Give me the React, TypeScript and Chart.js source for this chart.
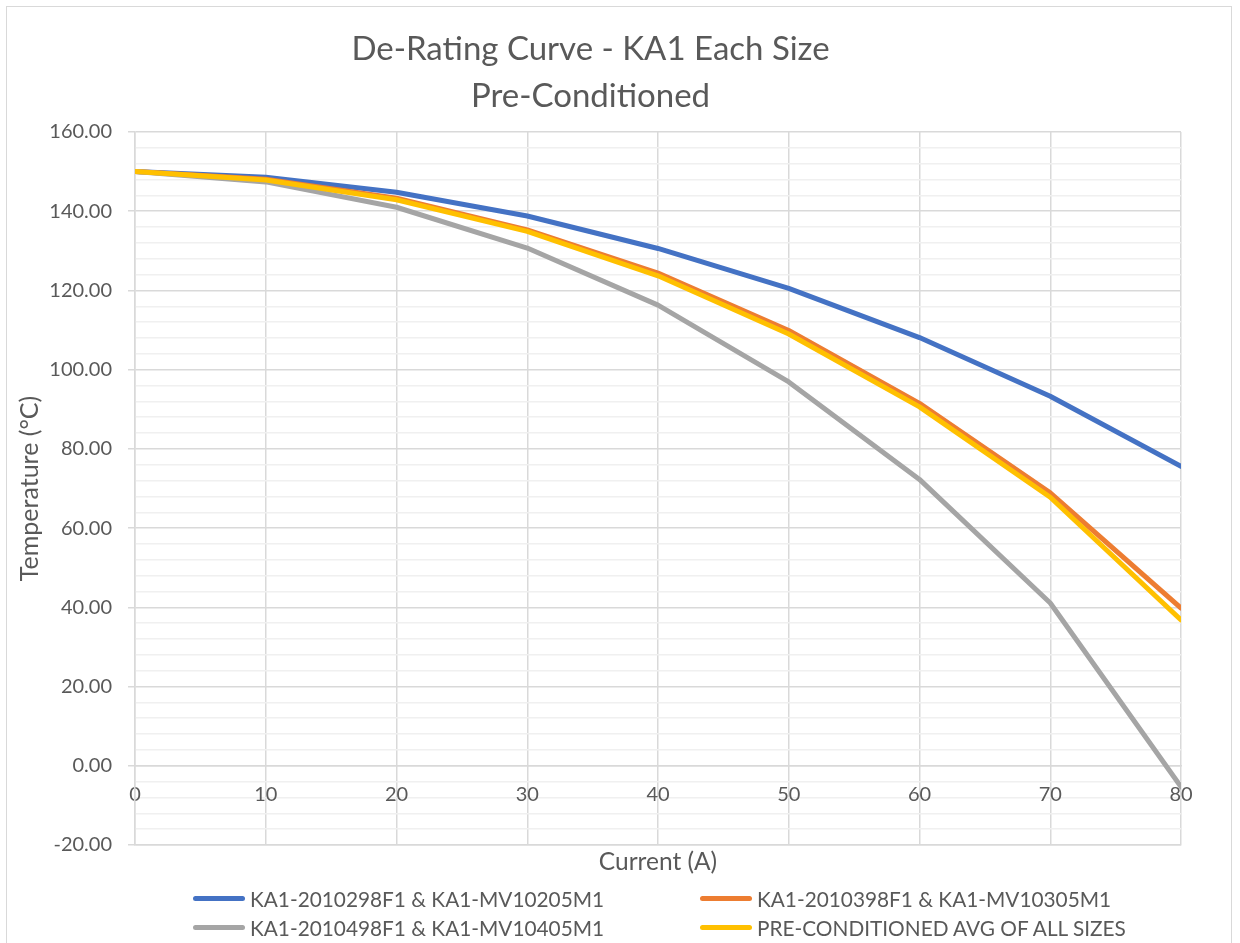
import React, { useEffect, useRef } from "react";
import { Chart, registerables } from "chart.js";

Chart.register(...registerables);

const currents = [0, 10, 20, 30, 40, 50, 60, 70, 80];

const seriesNames = [
  "KA1-2010298F1 & KA1-MV10205M1",
  "KA1-2010398F1 & KA1-MV10305M1",
  "KA1-2010498F1 & KA1-MV10405M1",
  "PRE-CONDITIONED AVG OF ALL SIZES",
];

const series1 = [150, 148.6, 144.8, 138.8, 130.6, 120.5, 108.1, 93.3, 75.6];
const series2 = [150, 148.1, 143.3, 135.3, 124.4, 109.9, 91.5, 68.9, 39.8];
const series3 = [150, 147.4, 141.0, 130.7, 116.3, 96.9, 72.3, 41.1, -5.3];
const series4 = [150, 147.9, 142.9, 134.9, 123.7, 109.0, 90.6, 67.8, 36.8];

const seriesColors = ["#4472C4", "#ED7D31", "#A5A5A5", "#FFC000"];

const titleLines = ["De-Rating Curve - KA1 Each Size", "Pre-Conditioned"];
const xTitle = "Current (A)";
const yTitle = "Temperature (°C)";

const xMin = 0;
const xMax = 80;
const xStep = 10;
const yMin = -20;
const yMax = 160;
const yMajor = 20;
const yMinor = 4;

const FONT = "Lato";
const TEXT = "#595959";
const GRID = "#d9d9d9";
const MINOR = "#f0f0f0";

const isMajor = (v: number) => Math.abs(v % yMajor) < 1e-6;

export default function App() {
  const ref = useRef<HTMLCanvasElement>(null);

  useEffect(() => {
    const all = [series1, series2, series3, series4];
    const chart = new Chart(ref.current!, {
      type: "line",
      data: {
        datasets: all.map((s, i) => ({
          label: seriesNames[i],
          data: s.map((y, j) => ({ x: currents[j], y })),
          borderColor: seriesColors[i],
          backgroundColor: seriesColors[i],
          borderWidth: 5,
          borderCapStyle: "round" as const,
          borderJoinStyle: "round" as const,
          pointRadius: 0,
          tension: 0,
          fill: false,
          order: 4 - i,
          xAxisID: "x",
          yAxisID: "y",
        })),
      },
      options: {
        responsive: false,
        animation: false,
        layout: { padding: { top: 26, left: 0, right: 59, bottom: 58 } },
        plugins: {
          legend: { display: false },
          tooltip: { enabled: false },
          title: {
            display: true,
            text: titleLines,
            color: TEXT,
            font: { family: FONT, size: 33, weight: "normal", lineHeight: 47 / 33 },
            padding: { top: 0, bottom: 12 },
          },
        },
        scales: {
          x: {
            type: "linear",
            position: "bottom",
            min: xMin,
            max: xMax,
            ticks: { stepSize: xStep, display: false },
            grid: { color: GRID, lineWidth: 1.5, drawTicks: false },
            border: { display: true, color: GRID, width: 1.5 },
            title: {
              display: true,
              text: xTitle,
              color: TEXT,
              font: { family: FONT, size: 24.5 },
              padding: { top: 0, bottom: 8 },
            },
            afterFit: (scale: any) => {
              scale.height = 40;
            },
          },
          x0: {
            type: "linear",
            position: { y: 0 } as any,
            min: xMin,
            max: xMax,
            ticks: {
              stepSize: xStep,
              color: TEXT,
              font: { family: FONT, size: 20 },
              padding: 17,
              maxRotation: 0,
            },
            grid: { display: false, drawTicks: false },
            border: { display: true, color: GRID, width: 1.5 },
          },
          y: {
            type: "linear",
            position: "left",
            min: yMin,
            max: yMax,
            ticks: {
              stepSize: yMinor,
              autoSkip: false,
              maxTicksLimit: 100,
              color: TEXT,
              font: { family: FONT, size: 20 },
              padding: 16,
              callback: (v: any) => (isMajor(Number(v)) ? Number(v).toFixed(2) : ""),
            },
            grid: {
              color: (c: any) => (isMajor(c.tick.value) ? GRID : MINOR),
              lineWidth: 1.5,
              tickColor: (c: any) => (isMajor(c.tick.value) ? GRID : "rgba(0,0,0,0)"),
              tickLength: 7,
            },
            border: { display: true, color: GRID, width: 1.5 },
            title: {
              display: true,
              text: yTitle,
              color: TEXT,
              font: { family: FONT, size: 25 },
              padding: { top: 15, bottom: 0 },
            },
            afterFit: (scale: any) => {
              scale.width = 135;
            },
          },
        },
      },
    });
    return () => chart.destroy();
  }, []);

  const legendPos = [
    { left: 193, top: 884 },
    { left: 700, top: 884 },
    { left: 193, top: 913 },
    { left: 700, top: 913 },
  ];

  return (
    <div
      style={{
        position: "absolute",
        left: 0,
        top: 0,
        width: 1240,
        height: 943,
        overflow: "hidden",
        background: "#ffffff",
        fontFamily: FONT,
      }}
    >
      <div
        style={{
          position: "absolute",
          left: 6,
          top: 6,
          width: 1226,
          height: 1000,
          border: "1.5px solid #d9d9d9",
          boxSizing: "border-box",
        }}
      />
      <canvas
        ref={ref}
        width={1240}
        height={943}
        style={{ position: "absolute", left: 0, top: 0, width: 1240, height: 943 }}
      />
      {seriesNames.map((name, i) => (
        <div
          key={name}
          style={{
            position: "absolute",
            left: legendPos[i].left,
            top: legendPos[i].top,
            height: 29,
            display: "flex",
            alignItems: "center",
            whiteSpace: "nowrap",
          }}
        >
          <span
            style={{
              display: "inline-block",
              width: 52,
              height: 5,
              borderRadius: 3,
              background: seriesColors[i],
              marginRight: 5,
            }}
          />
          <span style={{ color: TEXT, fontSize: 20.8, lineHeight: "29px" }}>{name}</span>
        </div>
      ))}
    </div>
  );
}
